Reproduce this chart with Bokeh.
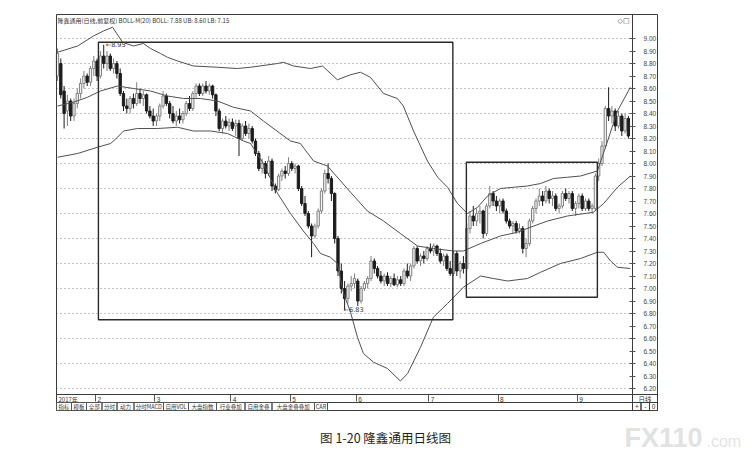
from bokeh.plotting import figure
from bokeh.models import (ColumnDataSource, FixedTicker, Label, BoxAnnotation, LinearAxis,
                          Range1d, PrintfTickFormatter, CustomJSTickFormatter)
from bokeh.embed import file_html
from bokeh.resources import INLINE

# ---------------- data ----------------
opens = [8.70, 8.80, 8.58, 8.42, 8.50, 8.38, 8.48, 8.56, 8.64, 8.70,
         8.65, 8.76, 8.82, 8.70, 8.86, 8.80, 8.86, 8.76, 8.80, 8.72,
         8.56, 8.46, 8.44, 8.52, 8.48, 8.56, 8.52, 8.55, 8.42, 8.38,
         8.34, 8.38, 8.46, 8.54, 8.48, 8.40, 8.34, 8.38, 8.35, 8.40,
         8.48, 8.44, 8.56, 8.62, 8.56, 8.62, 8.58, 8.62, 8.55, 8.42,
         8.28, 8.34, 8.30, 8.33, 8.30, 8.32, 8.20, 8.30, 8.24, 8.28,
         8.18, 8.08, 7.96, 8.00, 7.92, 8.02, 7.82, 7.79, 7.90, 7.94,
         7.92, 8.00, 7.96, 7.98, 7.80, 7.68, 7.60, 7.50, 7.42, 7.50,
         7.62, 7.78, 7.92, 7.88, 7.76, 7.40, 7.14, 7.00, 6.92, 7.02,
         7.04, 7.06, 6.90, 7.00, 7.04, 7.08, 7.22, 7.16, 7.10, 7.06,
         7.10, 7.04, 7.08, 7.03, 7.07, 7.04, 7.14, 7.10, 7.18, 7.32,
         7.22, 7.26, 7.24, 7.32, 7.30, 7.34, 7.28, 7.22, 7.26, 7.16,
         7.12, 7.28, 7.14, 7.20, 7.16, 7.48, 7.58, 7.54, 7.60, 7.62,
         7.44, 7.66, 7.76, 7.70, 7.66, 7.70, 7.62, 7.54, 7.50, 7.52,
         7.46, 7.48, 7.32, 7.36, 7.54, 7.64, 7.70, 7.74, 7.70, 7.78,
         7.72, 7.74, 7.64, 7.66, 7.76, 7.72, 7.76, 7.64, 7.68, 7.74,
         7.64, 7.70, 7.64, 7.64, 7.90, 8.00, 8.14, 8.44, 8.38, 8.42,
         8.30, 8.38, 8.26, 8.36]
highs = [8.92, 8.84, 8.62, 8.55, 8.52, 8.52, 8.60, 8.68, 8.74, 8.72,
         8.78, 8.86, 8.84, 8.90, 8.95, 8.90, 8.88, 8.84, 8.82, 8.76,
         8.58, 8.52, 8.54, 8.56, 8.65, 8.60, 8.58, 8.56, 8.46, 8.44,
         8.40, 8.48, 8.58, 8.56, 8.50, 8.46, 8.42, 8.44, 8.42, 8.50,
         8.54, 8.58, 8.64, 8.64, 8.64, 8.66, 8.64, 8.63, 8.56, 8.44,
         8.36, 8.38, 8.36, 8.36, 8.35, 8.35, 8.32, 8.34, 8.32, 8.30,
         8.20, 8.10, 8.04, 8.02, 8.06, 8.04, 7.84, 7.92, 7.96, 7.98,
         8.05, 8.02, 8.00, 7.99, 7.82, 7.74, 7.62, 7.52, 7.52, 7.64,
         7.80, 7.95, 8.00, 7.90, 7.77, 7.42, 7.20, 7.06, 7.04, 7.10,
         7.12, 7.08, 7.02, 7.06, 7.10, 7.26, 7.24, 7.18, 7.14, 7.12,
         7.13, 7.10, 7.12, 7.10, 7.10, 7.16, 7.20, 7.20, 7.34, 7.34,
         7.28, 7.30, 7.34, 7.36, 7.36, 7.35, 7.32, 7.28, 7.28, 7.22,
         7.30, 7.30, 7.22, 7.26, 7.52, 7.62, 7.66, 7.64, 7.66, 7.63,
         7.68, 7.82, 7.78, 7.74, 7.72, 7.72, 7.64, 7.56, 7.54, 7.54,
         7.52, 7.50, 7.40, 7.56, 7.66, 7.72, 7.80, 7.78, 7.82, 7.80,
         7.78, 7.76, 7.68, 7.78, 7.80, 7.78, 7.78, 7.70, 7.76, 7.76,
         7.72, 7.72, 7.68, 7.92, 8.04, 8.18, 8.46, 8.61, 8.46, 8.44,
         8.42, 8.40, 8.40, 8.38]
lows = [8.66, 8.52, 8.28, 8.30, 8.34, 8.34, 8.44, 8.52, 8.60, 8.62,
        8.62, 8.70, 8.66, 8.68, 8.76, 8.74, 8.74, 8.72, 8.68, 8.54,
        8.42, 8.40, 8.40, 8.44, 8.46, 8.48, 8.46, 8.40, 8.36, 8.30,
        8.30, 8.34, 8.44, 8.46, 8.36, 8.32, 8.30, 8.32, 8.32, 8.38,
        8.42, 8.42, 8.52, 8.54, 8.54, 8.56, 8.55, 8.52, 8.38, 8.26,
        8.24, 8.28, 8.26, 8.26, 8.22, 8.06, 8.18, 8.22, 8.20, 8.16,
        8.06, 7.94, 7.92, 7.88, 7.90, 7.78, 7.76, 7.78, 7.86, 7.88,
        7.90, 7.94, 7.92, 7.78, 7.66, 7.58, 7.48, 7.25, 7.40, 7.48,
        7.60, 7.76, 7.84, 7.70, 7.36, 7.10, 6.96, 6.83, 6.88, 6.98,
        7.00, 6.86, 6.88, 6.98, 7.00, 7.06, 7.12, 7.08, 7.04, 7.02,
        7.02, 7.01, 7.02, 7.01, 7.02, 7.02, 7.08, 7.06, 7.16, 7.20,
        7.18, 7.20, 7.22, 7.28, 7.26, 7.26, 7.20, 7.18, 7.14, 7.10,
        7.10, 7.10, 7.08, 7.12, 7.14, 7.44, 7.50, 7.50, 7.52, 7.40,
        7.42, 7.64, 7.66, 7.62, 7.60, 7.60, 7.52, 7.48, 7.44, 7.44,
        7.44, 7.28, 7.25, 7.34, 7.52, 7.60, 7.66, 7.66, 7.68, 7.68,
        7.66, 7.62, 7.60, 7.64, 7.70, 7.68, 7.62, 7.58, 7.64, 7.62,
        7.62, 7.62, 7.60, 7.62, 7.86, 7.98, 8.12, 8.34, 8.32, 8.26,
        8.28, 8.22, 8.24, 8.20]
closes = [8.88, 8.55, 8.40, 8.50, 8.38, 8.48, 8.56, 8.64, 8.70, 8.65,
          8.76, 8.82, 8.70, 8.86, 8.80, 8.86, 8.76, 8.80, 8.72, 8.56,
          8.46, 8.44, 8.52, 8.48, 8.56, 8.52, 8.55, 8.42, 8.38, 8.34,
          8.38, 8.46, 8.54, 8.48, 8.40, 8.34, 8.38, 8.35, 8.40, 8.48,
          8.44, 8.56, 8.62, 8.56, 8.62, 8.58, 8.62, 8.55, 8.42, 8.28,
          8.34, 8.30, 8.33, 8.28, 8.32, 8.20, 8.30, 8.24, 8.28, 8.18,
          8.08, 7.96, 8.00, 7.92, 8.02, 7.82, 7.79, 7.90, 7.94, 7.92,
          8.00, 7.96, 7.98, 7.80, 7.68, 7.60, 7.50, 7.42, 7.50, 7.62,
          7.78, 7.92, 7.88, 7.76, 7.40, 7.14, 7.00, 6.92, 7.02, 7.04,
          7.08, 6.90, 7.00, 7.04, 7.08, 7.22, 7.16, 7.10, 7.06, 7.10,
          7.04, 7.08, 7.03, 7.07, 7.04, 7.14, 7.10, 7.18, 7.32, 7.22,
          7.26, 7.24, 7.32, 7.30, 7.34, 7.28, 7.22, 7.26, 7.16, 7.12,
          7.28, 7.14, 7.20, 7.16, 7.48, 7.58, 7.54, 7.60, 7.62, 7.44,
          7.66, 7.76, 7.70, 7.66, 7.70, 7.62, 7.54, 7.50, 7.52, 7.46,
          7.48, 7.32, 7.36, 7.54, 7.64, 7.70, 7.74, 7.70, 7.78, 7.72,
          7.74, 7.64, 7.66, 7.76, 7.72, 7.76, 7.64, 7.68, 7.74, 7.64,
          7.70, 7.64, 7.66, 7.90, 8.00, 8.14, 8.44, 8.38, 8.42, 8.30,
          8.38, 8.26, 8.36, 8.22]

# Bollinger bands, read at points along the chart (x = trading-day index)
ub_idx = [0, 6.1, 10.9, 13.9, 16.7, 19.7, 23, 26, 28.2, 31.2, 33.3, 36.4, 41.2,
          48.5, 54.5, 58.5, 66.7, 68.5, 71.5, 76.7, 80.3, 84.8, 88.8, 91.8, 94.8,
          98.8, 103, 104.8, 107.9, 112.1, 115.2, 118.2, 121.2, 124.2, 127.3,
          130.3, 134.2, 138.2, 142.4, 146.4, 150.3, 154.5, 158.5, 163.6, 166.7,
          169.7, 173.6]
ub_val = [8.89, 8.94, 9.02, 9.06, 9.09, 8.97, 8.94, 8.96, 8.92, 8.88, 8.85, 8.82,
          8.78, 8.77, 8.76, 8.77, 8.80, 8.81, 8.78, 8.76, 8.78, 8.67, 8.71, 8.73,
          8.69, 8.56, 8.52, 8.46, 8.26, 8.02, 7.89, 7.81, 7.68, 7.60, 7.65, 7.74,
          7.80, 7.81, 7.82, 7.84, 7.88, 7.89, 7.90, 7.94, 8.18, 8.42, 8.61]
mb_idx = [0, 4.8, 9.1, 13, 18.2, 23, 28.2, 33.3, 38.2, 43.3, 48.5, 53.3, 58.5,
          62.4, 70.6, 73.6, 77.6, 81.8, 85.8, 88.8, 93.9, 98.8, 103.9, 109.1,
          113.9, 120, 123, 128.2, 134.2, 139.4, 143.3, 148.5, 154.5, 162.4,
          165.5, 169.7, 173.6]
mb_val = [8.46, 8.49, 8.53, 8.58, 8.62, 8.60, 8.58, 8.54, 8.52, 8.52, 8.50, 8.45,
          8.42, 8.34, 8.18, 8.16, 8.02, 7.98, 7.86, 7.77, 7.62, 7.54, 7.44, 7.34,
          7.32, 7.30, 7.30, 7.36, 7.42, 7.45, 7.49, 7.54, 7.58, 7.61, 7.68, 7.81,
          7.90]
lb_idx = [0, 6.1, 12.1, 16.1, 18.2, 20, 24.2, 30.3, 36.4, 41.2, 46.4, 51.5, 56.4,
          58.5, 62.4, 66.7, 70.6, 74.5, 77.6, 79.7, 82.7, 84.8, 86.7, 88.8, 90.9,
          92.7, 95.8, 100, 103.9, 106.1, 110, 113.9, 118.2, 123, 128.2, 132.1,
          136.4, 142.4, 146.4, 152.4, 158.5, 163.6, 165.5, 167.6, 169.7, 173.6]
lb_val = [8.05, 8.08, 8.13, 8.16, 8.21, 8.26, 8.28, 8.28, 8.29, 8.26, 8.26, 8.24,
          8.18, 8.16, 8.00, 7.76, 7.60, 7.46, 7.36, 7.28, 7.25, 7.20, 6.96, 6.81,
          6.61, 6.48, 6.41, 6.36, 6.26, 6.32, 6.53, 6.77, 6.88, 7.01, 7.10, 7.08,
          7.06, 7.08, 7.13, 7.20, 7.24, 7.29, 7.29, 7.22, 7.17, 7.16]

# highlighted boxes (index / price)
box_left = [12.4, 123.9]
box_right = [119.8, 163.6]
box_top = [8.97, 8.01]
box_bottom = [6.75, 6.93]

price_ticks = [6.20, 6.30, 6.40, 6.50, 6.60, 6.70, 6.80, 6.90, 7.00, 7.10,
               7.20, 7.30, 7.40, 7.50, 7.60, 7.70, 7.80, 7.90, 8.00, 8.10,
               8.20, 8.30, 8.40, 8.50, 8.60, 8.70, 8.80, 8.90, 9.00]
month_start_idx = [12, 30, 53, 71, 91, 113, 134, 158]
month_labels = ["2", "3", "4", "5", "6", "7", "8", "9"]
year_label = "2017年"

title_text = "隆鑫通用(日线,前复权) BOLL-M(20) BOLL: 7.88 UB: 8.60 LB: 7.15"
tab_names = ["指标", "模板", "全部", "分时", "动力", "分时MACD", "自用VOL",
             "大盘指数", "行业叠加", "自用金叠", "大盘金叠叠加", "CAR"]
caption = "图 1-20 隆鑫通用日线图"

# ---------------- layout helpers (page pixel -> data) ----------------
W, H = 753, 464


def px_x(px):
    return (px - 57.0) / 3.3


def px_y(py):
    return 9.00 - (py - 38.0) / 125.0


CJK = "Noto Sans CJK SC"
LAT = "Liberation Sans"

p = figure(width=W, height=H, output_backend="svg", toolbar_location=None,
           title=None, x_axis_location=None, y_axis_location=None,
           x_range=Range1d(px_x(0), px_x(W)),
           y_range=Range1d(px_y(H), px_y(0)),
           min_border=0, min_border_left=0, min_border_right=0,
           min_border_top=0, min_border_bottom=0)
p.background_fill_color = "white"
p.border_fill_color = "white"
p.outline_line_color = None
p.xgrid.visible = False
p.ygrid.visible = False

PX_L, PX_R, PX_T, PX_B = 56, 632, 14, 394   # price area

# price axis, drawn at the separator line
ya = LinearAxis(fixed_location=px_x(PX_R), bounds=(px_y(PX_B), px_y(PX_T)),
                ticker=FixedTicker(ticks=price_ticks),
                formatter=PrintfTickFormatter(format="%.2f"))
ya.major_label_text_font = LAT
ya.major_label_text_font_size = "6.5px"
ya.major_label_text_color = "#444444"
ya.major_tick_in = 3
ya.major_tick_out = 3
ya.minor_tick_line_color = None
ya.major_label_standoff = 8
ya.axis_line_color = "#3a3a3a"
ya.major_tick_line_color = "#555555"
p.add_layout(ya, "right")

# month separators on the date strip
xa = LinearAxis(fixed_location=px_y(PX_B), bounds=(px_x(PX_L), px_x(PX_R)),
                ticker=FixedTicker(ticks=[m - 0.5 for m in month_start_idx]),
                formatter=CustomJSTickFormatter(code="return ''"))
xa.major_tick_in = 0
xa.major_tick_out = 7
xa.minor_tick_line_color = None
xa.axis_line_color = "#3a3a3a"
xa.major_tick_line_color = "#555555"
p.add_layout(xa, "below")

# dotted price grid (every second tick)
grid_levels = price_ticks[::2]
p.segment(x0=[px_x(PX_L)] * len(grid_levels), x1=[px_x(PX_R)] * len(grid_levels),
          y0=grid_levels, y1=grid_levels, line_color="#8a8a8a", line_dash="1 3", line_width=1)

# ---------------- candles ----------------
n = len(opens)
idx = list(range(n))


def make_src(want_up):
    rows = [i for i in idx if (closes[i] >= opens[i]) == want_up]
    return ColumnDataSource(dict(
        x=rows,
        top=[max(opens[i], closes[i]) for i in rows],
        bottom=[min(opens[i], closes[i]) for i in rows],
        high=[highs[i] for i in rows],
        low=[lows[i] for i in rows]))


up_src = make_src(True)
dn_src = make_src(False)

p.segment(x0="x", y0="low", x1="x", y1="high", source=up_src, line_color="#808080", line_width=1)
p.vbar(x="x", width=0.7, top="top", bottom="bottom", source=up_src,
       fill_color="#f2f2f2", line_color="#808080", line_width=1)
p.segment(x0="x", y0="low", x1="x", y1="high", source=dn_src, line_color="#1c1c1c", line_width=1)
p.vbar(x="x", width=0.7, top="top", bottom="bottom", source=dn_src,
       fill_color="#1c1c1c", line_color="#1c1c1c", line_width=1)

# ---------------- bands ----------------
for bx, by in ((ub_idx, ub_val), (mb_idx, mb_val), (lb_idx, lb_val)):
    p.line(bx, by, line_color="#505050", line_width=1)

# ---------------- boxes ----------------
p.quad(left=box_left, right=box_right, top=box_top, bottom=box_bottom,
       fill_color=None, line_color="#2a2a2a", line_width=1.4)

# extreme labels
imax = highs.index(max(highs))
imin = lows.index(min(lows))
p.add_layout(Label(x=imax, y=highs[imax], x_offset=2, text="←%.2f" % highs[imax],
                   text_font="DejaVu Sans", text_font_size="6.5px", text_color="#333333",
                   text_baseline="middle"))
p.add_layout(Label(x=imin, y=lows[imin], x_offset=-1, text="←%.2f" % lows[imin],
                   text_font="DejaVu Sans", text_font_size="6.5px", text_color="#333333",
                   text_baseline="middle"))

# ---------------- decorations ----------------
def box(l, r, t, b, color="#3a3a3a", width=1):
    p.add_layout(BoxAnnotation(left=px_x(l), right=px_x(r), top=px_y(t), bottom=px_y(b),
                               fill_alpha=0, fill_color=None, line_color=color,
                               line_width=width, line_alpha=1))


def text(px, py, s, size="7px", font=CJK, align="left", color="#333333", style="normal"):
    p.add_layout(Label(x=px_x(px), y=px_y(py), text=s, text_font=font,
                       text_font_size=size, text_align=align, text_baseline="middle",
                       text_color=color, text_font_style=style))


# outer frame and strips
box(PX_L, 657, PX_T, 410)
box(PX_L, PX_R, PX_B, 402)
box(PX_R, 657, PX_B, 402)
box(PX_R, 640.5, 402, 410)
box(640.5, 649, 402, 410)
box(649, 657, 402, 410)

# title line and icons
text(57, 20, title_text, size="6px")
text(617, 20, "◇□", size="7px", font="DejaVu Sans", color="#555555")

# date labels
text(58, 398.5, year_label, size="6px")
for m, lab in zip(month_start_idx, month_labels):
    p.add_layout(Label(x=m - 0.5, y=px_y(398.5), x_offset=2, text=lab, text_font=LAT,
                       text_font_size="6.5px", text_baseline="middle", text_color="#333333"))

# bottom-right controls
text(644.5, 398.5, "日线", size="6.5px", align="center")
text(636.3, 406.2, "+", size="6.5px", font=LAT, align="center")
text(644.8, 406.2, "-", size="6.5px", font=LAT, align="center")
text(653, 406.2, "0", size="6.5px", font=LAT, align="center")

# tab row
tab_edges = [56, 71, 86, 101.5, 116.5, 133.5, 163, 188, 216, 244.5, 271.5, 314, 327]
for k, name in enumerate(tab_names):
    l, r = tab_edges[k], tab_edges[k + 1]
    box(l, r, 402, 410, color="#555555")
    text((l + r) / 2, 406.2, name, size="5.5px", align="center")

# caption
text(385, 437, caption, size="12.5px", align="center", color="#1e1e1e")

# watermark
text(624, 437, "FX110", size="27px", font=LAT, color="#e2e2e2", style="bold")
text(706, 441, ".com", size="16px", font=LAT, color="#e4e4e4")

open("out.html", "w").write(file_html(p, INLINE))
